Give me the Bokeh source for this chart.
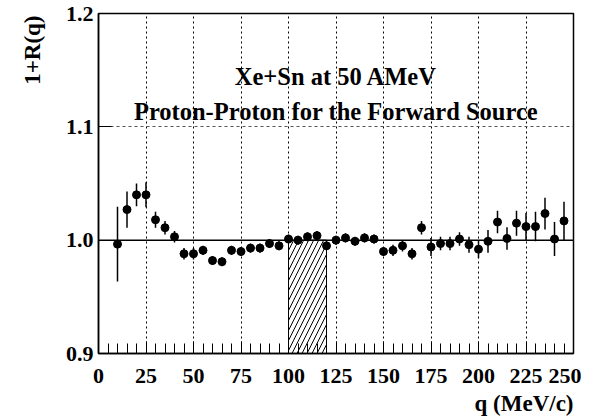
from bokeh.plotting import figure
from bokeh.models import Range1d, FixedTicker, Span, Label, Title, PrintfTickFormatter, ColumnDataSource
from bokeh.embed import file_html
from bokeh.resources import INLINE

# ---- data ----
q = [10, 15, 20, 25, 30, 35, 40, 45, 50, 55, 60, 65, 70, 75, 80, 85, 90, 95,
     100, 105, 110, 115, 120, 125, 130, 135, 140, 145, 150, 155, 160, 165,
     170, 175, 180, 185, 190, 195, 200, 205, 210, 215, 220, 225, 230, 235,
     240, 245]
r = [0.9965, 1.027, 1.040, 1.040, 1.018, 1.011, 1.003, 0.988, 0.988, 0.991,
     0.982, 0.981, 0.991, 0.990, 0.993, 0.993, 0.997, 0.995,
     1.001, 1.000, 1.003, 1.004, 0.995, 1.000, 1.002, 0.999, 1.002, 1.001,
     0.990, 0.991, 0.995, 0.988,
     1.011, 0.994, 0.997, 0.997, 1.001, 0.996, 0.992, 0.999, 1.016, 1.0015,
     1.015, 1.012, 1.012, 1.0235, 1.001, 1.017]
err = [0.033, 0.016, 0.010, 0.011, 0.007, 0.006, 0.005, 0.005, 0.005, 0.004,
       0.004, 0.004, 0.004, 0.004, 0.004, 0.004, 0.004, 0.004,
       0.004, 0.004, 0.004, 0.004, 0.004, 0.004, 0.004, 0.004, 0.004, 0.004,
       0.004, 0.005, 0.005, 0.005,
       0.006, 0.008, 0.006, 0.006, 0.006, 0.007, 0.008, 0.010, 0.010, 0.010,
       0.011, 0.012, 0.013, 0.014, 0.015, 0.017]

x_ticks = [0, 25, 50, 75, 100, 125, 150, 175, 200, 225, 250]
x_minor = list(range(0, 251, 5))
y_ticks = [0.9, 1.0, 1.1, 1.2]
band_lo, band_hi = 100, 120

title1 = "Xe+Sn at 50 AMeV"
title2 = "Proton-Proton for the Forward Source"
xlabel = "q (MeV/c)"
ylabel = "1+R(q)"

FONT = "'Liberation Serif'"

src = ColumnDataSource(dict(
    q=q, r=r,
    lo=[a - b for a, b in zip(r, err)],
    hi=[a + b for a, b in zip(r, err)],
))

p = figure(width=581, height=418, output_backend="svg", toolbar_location=None,
           x_range=Range1d(0, 250), y_range=Range1d(0.9, 1.2),
           min_border_left=96, min_border_right=8, min_border_top=13,
           min_border_bottom=65)
p.background_fill_color = "white"
p.border_fill_color = "white"
p.outline_line_color = "black"
p.outline_line_width = 1.5

# axes
p.xaxis.ticker = FixedTicker(ticks=x_ticks, minor_ticks=x_minor)
p.yaxis.ticker = FixedTicker(ticks=y_ticks)
p.yaxis.formatter = PrintfTickFormatter(format="%.1f")
for ax in (p.xaxis[0], p.yaxis[0]):
    ax.axis_line_color = "black"
    ax.axis_line_width = 1.5
    ax.major_tick_out = 0
    ax.minor_tick_out = 0
    ax.major_tick_line_color = "black"
    ax.minor_tick_line_color = "black"
    ax.major_label_text_font = FONT
    ax.major_label_text_font_style = "bold"
    ax.major_label_text_font_size = "22px"
    ax.major_label_text_color = "black"
p.xaxis.major_tick_in = 12
p.xaxis.minor_tick_in = 10
p.xaxis.major_label_standoff = 15
p.yaxis.major_tick_in = 13
p.yaxis.minor_tick_line_color = None
p.yaxis.major_label_standoff = 5

# grids
p.xgrid.ticker = FixedTicker(ticks=x_ticks)
p.ygrid.ticker = FixedTicker(ticks=y_ticks)
p.xgrid.grid_line_color = "black"
p.xgrid.grid_line_dash = "2 3"
p.xgrid.grid_line_width = 1
p.ygrid.grid_line_color = "#555555"
p.ygrid.grid_line_dash = "3 3"
p.ygrid.grid_line_width = 1

# hatched band
p.quad(left=[band_lo], right=[band_hi], bottom=[0.9], top=[1.0],
       fill_color=None, line_color="black", line_width=1,
       hatch_pattern="/", hatch_color="black", hatch_scale=10, hatch_weight=1)

# reference line at 1
p.add_layout(Span(location=1.0, dimension="width", line_color="black", line_width=1.5))

# error bars and points
p.segment(x0="q", y0="lo", x1="q", y1="hi", source=src, line_color="black", line_width=1.5)
p.scatter(x="q", y="r", source=src, size=8, fill_color="black", line_color="black")

# titles inside
for txt, yy in ((title1, 1.1447), (title2, 1.1132)):
    p.add_layout(Label(x=125, y=yy, text=txt, text_align="center", text_baseline="alphabetic",
                       text_font=FONT, text_font_style="bold", text_font_size="24.5px",
                       text_color="black"))

# axis labels as titles
yt = Title(text=ylabel, align="right", text_font=FONT, text_font_style="bold",
           text_font_size="23px", text_color="black", standoff=35, offset=2)
p.add_layout(yt, "left")
xt = Title(text=xlabel, align="right", text_font=FONT, text_font_style="bold",
           text_font_size="23px", text_color="black", standoff=6)
p.add_layout(xt, "below")

open("out.html", "w").write(file_html(p, INLINE))
